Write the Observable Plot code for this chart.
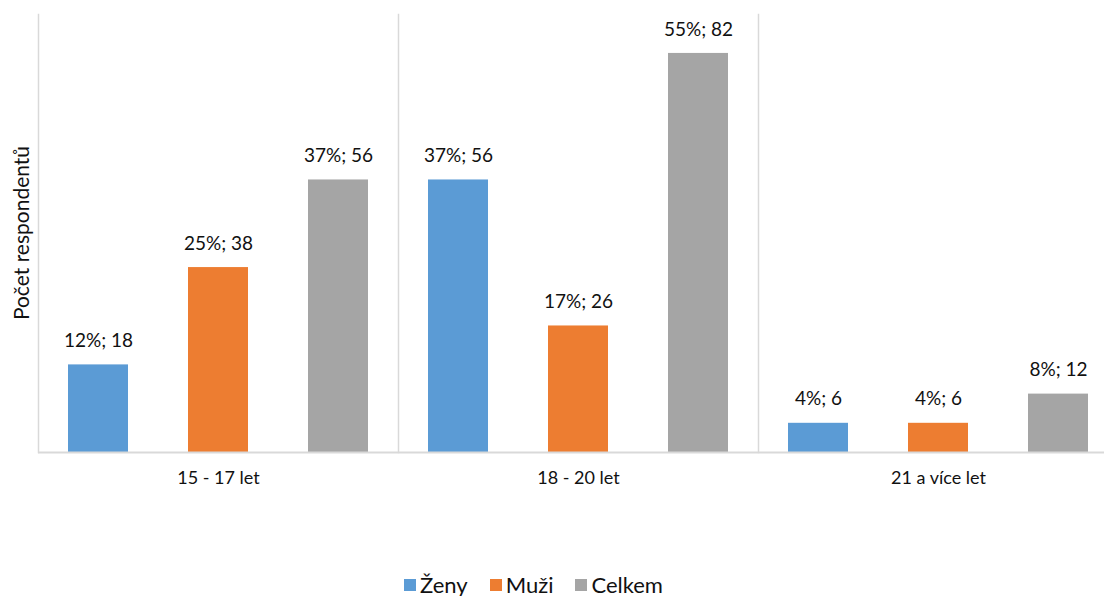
<!DOCTYPE html>
<html>
<head>
<meta charset="utf-8">
<script src="https://cdn.jsdelivr.net/npm/d3@7"></script>
<script src="https://cdn.jsdelivr.net/npm/@observablehq/plot@0.6"></script>
<style>
  html, body { margin: 0; padding: 0; background: #fff; }
  body { width: 1104px; height: 596px; overflow: hidden; position: relative; font-family: Lato, "Open Sans", sans-serif; color: #111; }
  #chart { position: absolute; left: 0; top: 0; width: 1118px; }
  #chart svg { max-width: none !important; }
  #ylabel { position: absolute; left: 20px; top: 233px; transform: translate(-50%, -50%) rotate(-90deg); font-size: 21px; white-space: nowrap; }
  #legend { position: absolute; left: 404px; top: 571px; display: flex; align-items: center; font-size: 22px; }
  #legend .item { display: flex; align-items: center; margin-right: 22px; }
  #legend .sw { width: 12px; height: 12px; margin-right: 4px; }
</style>
</head>
<body>
<div id="chart"></div>
<div id="ylabel">Počet respondentů</div>
<div id="legend"></div>
<script>
const groups = ["15 - 17 let", "18 - 20 let", "21 a více let"];
const series = ["Ženy", "Muži", "Celkem"];
const colors = ["#5b9bd5", "#ed7d31", "#a5a5a5"];
const zenyCount = [18, 56, 6];
const muziCount = [38, 26, 6];
const celkemCount = [56, 82, 12];
const zenyPct = [12, 37, 4];
const muziPct = [25, 17, 4];
const celkemPct = [37, 55, 8];

const counts = [zenyCount, muziCount, celkemCount];
const pcts = [zenyPct, muziPct, celkemPct];
const data = [];
groups.forEach((g, gi) => series.forEach((s, si) => {
  data.push({group: g, series: s, value: counts[si][gi], pct: pcts[si][gi]});
}));

const chart = Plot.plot({
  width: 1118,
  height: 500,
  marginLeft: 38,
  marginRight: 0,
  marginTop: 14,
  marginBottom: 48,
  style: {fontFamily: "Lato, 'Open Sans', sans-serif", fontSize: "18px", color: "#111", background: "#fff", maxWidth: "none"},
  fx: {domain: groups, padding: 0, label: null},
  x: {domain: series, paddingInner: 0.5, paddingOuter: 0.25, axis: null},
  y: {domain: [0, 90], axis: null},
  color: {domain: series, range: colors},
  marks: [
    Plot.frame({anchor: "left", stroke: "#d9d9d9", strokeWidth: 1.5, strokeOpacity: 1}),
    Plot.barY(data, {fx: "group", x: "series", y: "value", fill: "series"}),
    Plot.ruleY([0], {stroke: "#d9d9d9", strokeWidth: 2}),
    Plot.text(data, {fx: "group", x: "series", y: "value", text: d => `${d.pct}%; ${d.value}`, dy: -24, fontSize: 19, fill: "#111"}),
    Plot.axisFx({anchor: "bottom", tickSize: 0, tickPadding: 19, fontSize: 18, label: null, fill: "#111"})
  ]
});
chart.style.maxWidth = "none";
document.getElementById("chart").appendChild(chart);

const legend = document.getElementById("legend");
series.forEach((s, i) => {
  const item = document.createElement("div");
  item.className = "item";
  const sw = document.createElement("div");
  sw.className = "sw";
  sw.style.background = colors[i];
  const t = document.createElement("span");
  t.textContent = s;
  item.appendChild(sw);
  item.appendChild(t);
  legend.appendChild(item);
});
</script>
</body>
</html>
